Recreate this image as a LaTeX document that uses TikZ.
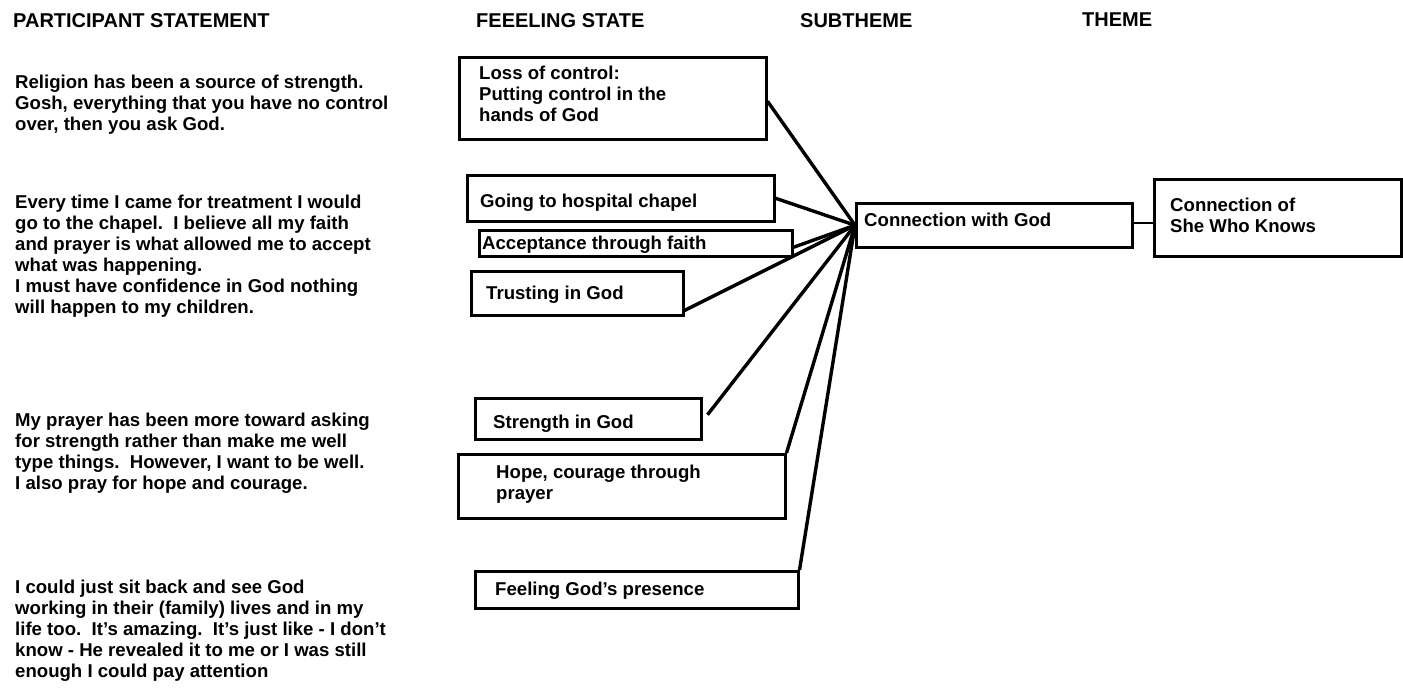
\documentclass[tikz,border=0pt]{standalone}
\usepackage{fontspec}
\setmainfont{Liberation Sans}
\usetikzlibrary{calc}

\begin{document}
\begin{tikzpicture}[x=1pt,y=-1pt,
  head/.style={font=\bfseries\fontsize{20}{24}\selectfont, inner sep=0pt, anchor=north west},
  body/.style={font=\bfseries\fontsize{18.6}{21}\selectfont, align=left, inner sep=0pt, anchor=north west},
  box/.style={draw, line width=2.5pt, anchor=north west, inner sep=0pt},
  link/.style={line width=3.4pt},
  thinlink/.style={line width=1.6pt}]

\useasboundingbox (0,0) rectangle (1403,688);

% column headings
\node[head] (h1) at (13,13) {PARTICIPANT STATEMENT};
\node[head] (h2) at (476,13) {FEEELING STATE};
\node[head] (h3) at (800,13) {SUBTHEME};
\node[head] (h4) at (1082,13) {THEME};

% participant statements
\node[body] (s1) at (15,75) {Religion has been a source of strength.\\
Gosh, everything that you have no control\\
over, then you ask God.};
\node[body] (s2) at (15,195) {Every time I came for treatment I would\\
go to the chapel.\ \ I believe all my faith\\
and prayer is what allowed me to accept\\
what was happening.\\
I must have confidence in God nothing\\
will happen to my children.};
\node[body] (s3) at (15,413) {My prayer has been more toward asking\\
for strength rather than make me well\\
type things.\ \ However, I want to be well.\\
I also pray for hope and courage.};
\node[body] (s4) at (15,580) {I could just sit back and see God\\
working in their (family) lives and in my\\
life too.\ \ It's amazing.\ \ It's just like - I don't\\
know - He revealed it to me or I was still\\
enough I could pay attention};

% feeling-state boxes
\node[box, minimum width=307pt, minimum height=82pt] (b1) at (458,56) {};
\node[box, minimum width=307pt, minimum height=46pt] (b2) at (466,174) {};
\node[box, minimum width=313pt, minimum height=26pt] (b3) at (478,229) {};
\node[box, minimum width=212pt, minimum height=44pt] (b4) at (470,270) {};
\node[box, minimum width=226pt, minimum height=41pt] (b5) at (474,397) {};
\node[box, minimum width=327pt, minimum height=64pt] (b6) at (457,453) {};
\node[box, minimum width=323pt, minimum height=37pt] (b7) at (474,570) {};

\node[body] (t1) at (479,66) {Loss of control:\\Putting control in the\\hands of God};
\node[body] (t2) at (480,194) {Going to hospital chapel};
\node[body] (t3) at (482,236) {Acceptance through faith};
\node[body] (t4) at (486,286) {Trusting in God};
\node[body] (t5) at (493,415) {Strength in God};
\node[body] (t6) at (496,465) {Hope, courage through\\prayer};
\node[body] (t7) at (495,582) {Feeling God's presence};

% subtheme and theme
\node[box, minimum width=276pt, minimum height=44pt] (hub) at (855,202) {};
\node[body] (th) at (864,213) {Connection with God};
\node[box, minimum width=247pt, minimum height=77pt] (theme) at (1153,178) {};
\node[body] (tt) at (1170,198) {Connection of\\She Who Knows};

% connectors
\draw[link] ([yshift=-3pt]b1.east) -- (hub.west);
\draw[link] (b2.east) -- (hub.west);
\draw[link] ([yshift=-4pt]b3.east) -- (hub.west);
\draw[link] ([yshift=6pt]b4.south east) -- (hub.west);
\draw[link] ([xshift=5pt,yshift=4pt]b5.east) -- (hub.west);
\draw[link] (b6.north east) -- (hub.west);
\draw[link] (b7.north east) -- (hub.west);
\draw[thinlink] ([yshift=2pt]hub.east) -- ([yshift=2pt]hub.east -| theme.west);
\end{tikzpicture}
\end{document}
